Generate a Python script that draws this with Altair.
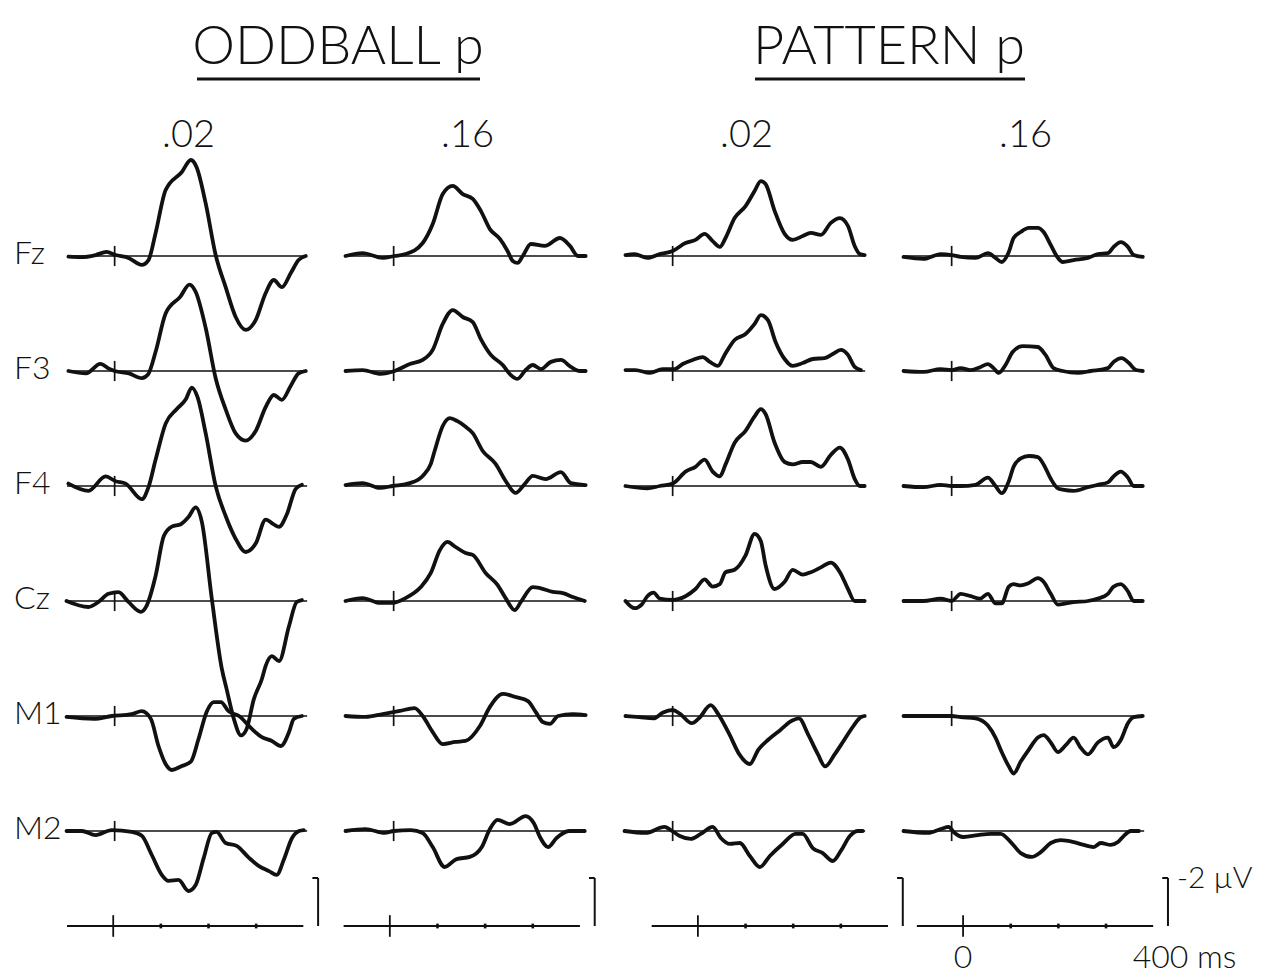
import altair as alt
import pandas as pd

# ---------------- data ----------------
GROUP_TITLES = ["ODDBALL p", "PATTERN p"]
CONDITIONS = ["odd02", "odd16", "pat02", "pat16"]
P_LABELS = [".02", ".16", ".02", ".16"]
ELECTRODES = ["Fz", "F3", "F4", "Cz", "M1", "M2"]
TIME_TICKS_MS = [100, 200, 300]
TIME_LABELS = [(0, "0"), (400, "400 ms")]
SCALE_UV = -2.0
SCALE_LABEL = "-2 \u00b5V"

# (time ms, amplitude uV; negative plotted upward)
ODD02_FZ = [(-97, 0.03), (-70, 0.05), (-40, -0.04), (-17, -0.17), (2, -0.04), (29, 0.08), (57, 0.37), (71, 0.17),
            (86, -0.96), (107, -2.75), (141, -3.5), (160, -4.0), (172, -3.7), (191, -2.2), (212, -0.04), (233, 1.3),
            (254, 2.54), (275, 3.08), (296, 2.67), (317, 1.54), (334, 1.0), (351, 1.3), (370, 0.7), (386, 0.17), (401, 0.0)]
ODD02_F3 = [(-97, 0.0), (-60, 0.1), (-30, -0.3), (-12, -0.1), (0, 0.0), (30, 0.1), (57, 0.3), (70, 0.15), (86, -0.8),
            (107, -2.4), (138, -3.1), (157, -3.6), (170, -3.3), (191, -1.8), (212, 0.3), (233, 1.6), (254, 2.6),
            (275, 2.9), (296, 2.5), (317, 1.5), (334, 1.0), (351, 1.2), (370, 0.6), (386, 0.1), (401, 0.0)]
ODD02_F4 = [(-97, -0.1), (-55, 0.2), (-19, -0.4), (2, -0.2), (23, -0.1), (57, 0.55), (71, 0.05), (86, -1.1),
            (107, -2.6), (130, -3.2), (149, -3.6), (162, -4.1), (174, -3.7), (191, -2.2), (212, 0.0), (233, 1.25),
            (254, 2.2), (275, 2.75), (296, 2.4), (317, 1.4), (334, 1.6), (345, 1.7), (361, 1.2), (380, 0.12), (393, -0.05)]
ODD02_CZ = [(-101, 0.0), (-55, 0.25), (-34, 0.04), (-13, -0.3), (8, -0.37), (29, 0.04), (55, 0.45), (67, 0.2),
            (86, -1.05), (103, -2.7), (120, -3.1), (139, -3.2), (155, -3.5), (170, -3.9), (183, -3.3), (204, -0.08),
            (225, 2.83), (235, 3.67), (250, 4.9), (265, 5.6), (277, 5.33), (292, 4.1), (309, 3.25), (317, 2.7),
            (330, 2.3), (345, 2.5), (366, 1.04), (382, 0.04), (393, -0.04)]
ODD02_M1 = [(-101, 0.04), (-44, 0.12), (-6, 0.0), (36, -0.08), (57, -0.2), (76, 0.12), (92, 1.25), (107, 2.0),
            (120, 2.25), (139, 2.1), (160, 1.9), (176, 0.96), (193, -0.17), (208, -0.58), (223, -0.58), (239, -0.2),
            (261, 0.0), (288, 0.54), (309, 0.88), (330, 1.04), (349, 1.25), (366, 0.67), (376, 0.12), (393, 0.0)]
ODD02_M2 = [(-101, 0.0), (-69, 0.0), (-40, 0.17), (-6, -0.04), (36, 0.04), (57, 0.2), (78, 1.0), (99, 1.83),
            (113, 2.08), (134, 2.04), (155, 2.5), (170, 2.25), (187, 1.12), (204, 0.08), (214, 0.04), (233, 0.5),
            (256, 0.62), (282, 1.12), (303, 1.46), (324, 1.67), (340, 1.83), (355, 1.2), (372, 0.3), (387, 0.0), (397, -0.04)]

ODD16_FZ = [(-101, 0.0), (-65, -0.12), (-23, 0.08), (2, 0.0), (25, -0.08), (61, -0.54), (82, -1.33), (103, -2.58),
            (124, -2.92), (145, -2.58), (166, -2.38), (183, -1.88), (202, -1.12), (223, -0.71), (239, -0.21),
            (250, 0.21), (260, 0.29), (271, 0.0), (288, -0.5), (317, -0.42), (349, -0.75), (370, -0.42), (387, 0.0), (403, 0.0)]
ODD16_F3 = [(-101, 0.0), (-65, -0.04), (-27, 0.12), (2, 0.0), (34, -0.29), (61, -0.46), (82, -0.88), (103, -1.96),
            (124, -2.54), (145, -2.25), (166, -2.04), (183, -1.33), (204, -0.67), (229, -0.25), (246, 0.17),
            (260, 0.33), (277, -0.04), (292, -0.25), (309, -0.08), (330, -0.38), (351, -0.46), (372, -0.17), (391, 0.0), (403, 0.0)]
ODD16_F4 = [(-101, -0.04), (-65, -0.12), (-29, 0.08), (-2, 0.0), (34, -0.12), (61, -0.42), (78, -0.92), (86, -1.46),
            (103, -2.5), (118, -2.83), (134, -2.7), (149, -2.5), (166, -2.2), (187, -1.46), (214, -0.92), (235, -0.21),
            (256, 0.29), (275, -0.08), (292, -0.42), (319, -0.29), (351, -0.58), (372, -0.12), (403, -0.04)]
ODD16_CZ = [(-101, 0.0), (-65, -0.12), (-29, 0.08), (-2, 0.08), (25, -0.12), (57, -0.58), (78, -1.17), (97, -2.12),
            (113, -2.46), (130, -2.25), (151, -2.0), (166, -1.92), (193, -1.17), (218, -0.67), (235, -0.12),
            (254, 0.38), (267, 0.04), (292, -0.58), (307, -0.54), (334, -0.38), (355, -0.33), (376, -0.17), (401, 0.0)]
ODD16_M1 = [(-101, 0.0), (-59, 0.04), (-23, -0.08), (13, -0.21), (44, -0.33), (61, 0.0), (82, 0.67), (103, 1.17),
            (130, 1.08), (151, 1.04), (181, 0.42), (202, -0.38), (229, -0.92), (256, -0.79), (282, -0.62),
            (298, -0.17), (313, 0.25), (328, 0.33), (345, 0.0), (376, -0.08), (403, -0.04)]
ODD16_M2 = [(-101, 0.0), (-59, -0.08), (-19, 0.08), (0, 0.0), (36, -0.04), (61, 0.08), (82, 0.67), (107, 1.5),
            (132, 1.17), (160, 1.08), (185, 0.67), (202, -0.08), (218, -0.46), (244, -0.29), (277, -0.62),
            (294, -0.33), (307, 0.25), (324, 0.67), (342, 0.29), (368, 0.0), (401, 0.0)]

PAT02_FZ = [(-99, -0.04), (-80, -0.08), (-53, 0.08), (-27, -0.08), (0, -0.21), (27, -0.54), (48, -0.67), (67, -0.92),
            (84, -0.62), (99, -0.38), (111, -0.75), (130, -1.58), (153, -2.08), (172, -2.71), (185, -3.12),
            (195, -3.0), (214, -1.88), (235, -0.92), (252, -0.67), (273, -0.83), (290, -0.96), (311, -0.88),
            (332, -1.38), (351, -1.58), (368, -1.25), (382, -0.42), (393, -0.08), (403, -0.04)]
PAT02_F3 = [(-99, -0.04), (-78, -0.04), (-48, 0.08), (-21, -0.08), (4, -0.08), (21, -0.29), (42, -0.46), (63, -0.58),
            (78, -0.38), (95, -0.21), (109, -0.67), (130, -1.29), (153, -1.54), (172, -1.96), (185, -2.33),
            (200, -2.12), (216, -1.21), (235, -0.5), (252, -0.21), (273, -0.33), (294, -0.5), (319, -0.54),
            (336, -0.71), (353, -0.88), (368, -0.67), (382, -0.17), (395, -0.04)]
PAT02_F4 = [(-99, 0.0), (-53, 0.1), (-27, 0.0), (0, -0.1), (27, -0.6), (48, -0.8), (67, -1.1), (84, -0.6), (99, -0.4),
            (111, -0.9), (130, -1.8), (153, -2.3), (172, -2.9), (185, -3.2), (195, -3.0), (214, -1.8), (235, -1.0),
            (252, -0.9), (273, -1.0), (290, -1.0), (311, -0.8), (332, -1.3), (351, -1.6), (368, -1.1), (382, -0.3),
            (393, 0.0), (403, 0.0)]
PAT02_CZ = [(-99, 0.0), (-80, 0.3), (-65, 0.15), (-53, -0.2), (-40, -0.35), (-27, -0.1), (0, -0.05), (27, -0.2),
            (48, -0.5), (67, -0.9), (84, -0.6), (99, -0.7), (111, -1.2), (130, -1.3), (153, -1.9), (172, -2.8),
            (185, -2.5), (195, -1.5), (214, -0.5), (235, -0.8), (252, -1.3), (273, -1.1), (290, -1.2), (311, -1.4),
            (332, -1.6), (351, -1.2), (368, -0.5), (382, 0.0), (403, 0.0)]
PAT02_M1 = [(-99, 0.0), (-70, 0.05), (-40, 0.1), (-20, -0.15), (0, -0.25), (15, -0.1), (40, 0.3), (55, 0.1),
            (80, -0.45), (95, -0.1), (120, 0.8), (140, 1.6), (162, 2.0), (180, 1.4), (200, 1.0), (225, 0.6),
            (250, 0.2), (265, 0.1), (285, 0.8), (305, 1.6), (320, 2.1), (340, 1.6), (360, 1.0), (380, 0.4),
            (395, 0.05), (403, 0.0)]
PAT02_M2 = [(-101, 0.0), (-57, 0.08), (-17, -0.17), (-4, -0.04), (15, 0.21), (38, 0.33), (59, 0.12), (84, -0.17),
            (101, 0.29), (120, 0.54), (141, 0.5), (162, 1.04), (183, 1.5), (204, 1.04), (231, 0.54), (258, 0.12),
            (273, 0.12), (294, 0.71), (315, 0.92), (336, 1.25), (353, 0.83), (372, 0.21), (389, 0.0), (399, 0.0)]

PAT16_FZ = [(-101, 0.04), (-59, 0.12), (-23, -0.08), (0, -0.04), (19, 0.04), (50, 0.08), (76, -0.12), (92, 0.08),
            (105, 0.25), (120, -0.17), (130, -0.75), (145, -1.0), (162, -1.17), (181, -1.17), (193, -1.0),
            (208, -0.46), (223, 0.08), (233, 0.25), (256, 0.17), (286, 0.08), (307, -0.08), (328, -0.12),
            (340, -0.38), (355, -0.58), (370, -0.38), (382, -0.04), (401, 0.04)]
PAT16_F3 = [(-101, 0.0), (-59, 0.04), (-23, -0.08), (0, -0.04), (19, -0.12), (40, -0.04), (61, -0.17), (76, -0.29),
            (88, -0.12), (99, 0.08), (113, -0.25), (128, -0.79), (149, -1.04), (181, -1.0), (197, -0.67),
            (214, -0.12), (233, 0.0), (265, 0.08), (292, 0.0), (328, -0.12), (340, -0.38), (357, -0.54),
            (372, -0.33), (387, -0.04), (401, 0.0)]
PAT16_F4 = [(-101, 0.0), (-59, 0.05), (-23, -0.05), (0, 0.0), (19, 0.0), (50, -0.05), (76, -0.35), (92, 0.0),
            (105, 0.3), (120, -0.2), (130, -0.8), (145, -1.15), (162, -1.25), (181, -1.2), (193, -0.9), (208, -0.3),
            (223, 0.1), (233, 0.15), (256, 0.2), (286, 0.05), (307, -0.05), (328, -0.15), (340, -0.4), (355, -0.6),
            (370, -0.35), (382, 0.0), (401, 0.0)]
PAT16_CZ = [(-101, 0.0), (-59, 0.0), (-23, -0.1), (0, 0.0), (19, -0.3), (40, -0.2), (60, -0.1), (76, -0.3),
            (92, 0.1), (105, 0.1), (120, -0.6), (130, -0.7), (145, -0.65), (162, -0.75), (181, -0.95), (193, -0.8),
            (208, -0.3), (223, 0.15), (240, 0.1), (256, 0.05), (286, 0.0), (307, -0.1), (328, -0.3), (340, -0.6),
            (355, -0.7), (370, -0.4), (382, 0.0), (401, 0.0)]
PAT16_M1 = [(-101, 0.0), (-59, 0.0), (-23, 0.0), (0, 0.0), (19, 0.05), (50, 0.1), (76, 0.4), (92, 0.9), (105, 1.5),
            (120, 2.1), (130, 2.4), (145, 1.9), (162, 1.4), (181, 0.9), (193, 0.8), (208, 1.1), (223, 1.5),
            (240, 1.2), (256, 0.9), (270, 1.3), (286, 1.6), (307, 1.1), (328, 0.9), (340, 1.3), (355, 1.0),
            (370, 0.3), (382, 0.05), (401, 0.0)]
PAT16_M2 = [(-101, 0.0), (-50, 0.08), (-23, -0.08), (-6, -0.17), (4, 0.04), (25, 0.25), (55, 0.17), (82, 0.12),
            (103, 0.12), (124, 0.46), (145, 0.92), (168, 1.08), (187, 0.88), (208, 0.5), (229, 0.38), (256, 0.46),
            (277, 0.58), (298, 0.67), (313, 0.5), (334, 0.58), (349, 0.46), (361, 0.21), (376, 0.0), (393, 0.0)]

WAVES = {
    ("odd02", "Fz"): ODD02_FZ, ("odd02", "F3"): ODD02_F3, ("odd02", "F4"): ODD02_F4,
    ("odd02", "Cz"): ODD02_CZ, ("odd02", "M1"): ODD02_M1, ("odd02", "M2"): ODD02_M2,
    ("odd16", "Fz"): ODD16_FZ, ("odd16", "F3"): ODD16_F3, ("odd16", "F4"): ODD16_F4,
    ("odd16", "Cz"): ODD16_CZ, ("odd16", "M1"): ODD16_M1, ("odd16", "M2"): ODD16_M2,
    ("pat02", "Fz"): PAT02_FZ, ("pat02", "F3"): PAT02_F3, ("pat02", "F4"): PAT02_F4,
    ("pat02", "Cz"): PAT02_CZ, ("pat02", "M1"): PAT02_M1, ("pat02", "M2"): PAT02_M2,
    ("pat16", "Fz"): PAT16_FZ, ("pat16", "F3"): PAT16_F3, ("pat16", "F4"): PAT16_F4,
    ("pat16", "Cz"): PAT16_CZ, ("pat16", "M1"): PAT16_M1, ("pat16", "M2"): PAT16_M2,
}

wave_rows = []
for (cond, elec), pts in WAVES.items():
    for i, (t, v) in enumerate(pts):
        wave_rows.append({"cond": cond, "elec": elec, "i": i, "t": t, "v": v})
WAVE_DF = pd.DataFrame(wave_rows)

# ---------------- layout / style ----------------
FONT = "Lato"
INK = "#111111"
W, H, GAP = 243, 115, 36
XDOM = [-100, 410]
UV_PX = 24
BASE_TOP = 70
YDOM = [-BASE_TOP / UV_PX, (H - BASE_TOP) / UV_PX]
AX_H, AX_BASE = 52, 50
AX_YDOM = [-AX_BASE / UV_PX, (AX_H - AX_BASE) / UV_PX]
AXIS_SHIFT = [-3, -8, 53, 24]
BASELINE_SPAN = [-100, 404]
AXIS_SPAN = [-97, 399]
BAR_T, HOOK_T = 430, 418
HEAD_H = 186

BASE_DF = pd.DataFrame({"t0": [BASELINE_SPAN[0]], "t1": [BASELINE_SPAN[1]], "v": [0.0]})
STIM_DF = pd.DataFrame({"t": [0], "v0": [-0.42], "v1": [0.42]})


def xsc(dom):
    return alt.Scale(domain=dom, nice=False, zero=False)


def ysc(dom):
    return alt.Scale(domain=dom, nice=False, zero=False, reverse=True)


def wave_cell(ci, elec):
    X, Y = xsc(XDOM), ysc(YDOM)
    base = alt.Chart(BASE_DF).mark_rule(color=INK, strokeWidth=1.6).encode(
        x=alt.X("t0:Q", scale=X, axis=None), x2="t1:Q",
        y=alt.Y("v:Q", scale=Y, axis=None))
    stim = alt.Chart(STIM_DF).mark_rule(color=INK, strokeWidth=1.7).encode(
        x=alt.X("t:Q", scale=X, axis=None),
        y=alt.Y("v0:Q", scale=Y, axis=None), y2="v1:Q")
    line = alt.Chart(WAVE_DF).transform_filter(
        (alt.datum.cond == CONDITIONS[ci]) & (alt.datum.elec == elec)
    ).mark_line(color=INK, strokeWidth=3.8, interpolate="monotone",
                strokeCap="round", strokeJoin="round").encode(
        x=alt.X("t:Q", scale=X, axis=None),
        y=alt.Y("v:Q", scale=Y, axis=None),
        order="i:Q")
    layers = [base, stim, line]
    if ci == 0:
        lab = alt.Chart(pd.DataFrame({"elec": ELECTRODES})).transform_filter(
            alt.datum.elec == elec
        ).transform_calculate(v="0").mark_text(
            font=FONT, fontSize=32, fontWeight=300, color=INK,
            align="left", baseline="alphabetic", dy=8).encode(
            x=alt.value(-53), y=alt.Y("v:Q", scale=Y, axis=None), text="elec:N")
        layers.append(lab)
    return alt.layer(*layers).properties(width=W, height=H)


TITLE_CX = {0: 271, 2: 264}
UNDERLINE = {0: (130, 413), 2: (130, 400)}


def head_cell(ci):
    p = alt.Chart(pd.DataFrame({"p": [P_LABELS[ci]]})).mark_text(
        font=FONT, fontSize=38, fontWeight=300, color=INK,
        align="center", baseline="alphabetic").encode(
        x=alt.value(W / 2), y=alt.value(147), text="p:N")
    layers = [p]
    if ci in TITLE_CX:
        gi = ci // 2
        txt = alt.Chart(pd.DataFrame({"t": [GROUP_TITLES[gi]]})).mark_text(
            font=FONT, fontSize=54, fontWeight=300, color=INK,
            align="center", baseline="alphabetic").encode(
            x=alt.value(TITLE_CX[ci]), y=alt.value(64), text="t:N")
        ul = alt.Chart(pd.DataFrame({"g": [gi]})).mark_rule(color=INK, strokeWidth=3).encode(
            x=alt.value(UNDERLINE[ci][0]), x2=alt.value(UNDERLINE[ci][1]), y=alt.value(79))
        layers += [txt, ul]
    return alt.layer(*layers).properties(width=W, height=HEAD_H)


def axis_cell(ci):
    X = xsc([XDOM[0] - AXIS_SHIFT[ci], XDOM[1] - AXIS_SHIFT[ci]])
    Y = ysc(AX_YDOM)
    axis_line = alt.Chart(pd.DataFrame({"t0": [AXIS_SPAN[0]], "t1": [AXIS_SPAN[1]], "v": [0.0]})).mark_rule(
        color=INK, strokeWidth=2.2).encode(
        x=alt.X("t0:Q", scale=X, axis=None), x2="t1:Q", y=alt.Y("v:Q", scale=Y, axis=None))
    zero_tick = alt.Chart(pd.DataFrame({"t": [0], "v0": [-0.45], "v1": [0.45]})).mark_rule(
        color=INK, strokeWidth=1.8).encode(
        x=alt.X("t:Q", scale=X, axis=None), y=alt.Y("v0:Q", scale=Y, axis=None), y2="v1:Q")
    small = alt.Chart(pd.DataFrame({"t": TIME_TICKS_MS})).transform_calculate(
        v0="-0.1", v1="0.1").mark_rule(color=INK, strokeWidth=2.6).encode(
        x=alt.X("t:Q", scale=X, axis=None), y=alt.Y("v0:Q", scale=Y, axis=None), y2="v1:Q")
    bar = alt.Chart(pd.DataFrame({"t": [BAR_T], "v0": [0.0], "v1": [SCALE_UV]})).mark_rule(
        color=INK, strokeWidth=2).encode(
        x=alt.X("t:Q", scale=X, axis=None), y=alt.Y("v0:Q", scale=Y, axis=None), y2="v1:Q")
    hook = alt.Chart(pd.DataFrame({"t0": [HOOK_T], "t1": [BAR_T], "v": [SCALE_UV]})).mark_rule(
        color=INK, strokeWidth=2).encode(
        x=alt.X("t0:Q", scale=X, axis=None), x2="t1:Q", y=alt.Y("v:Q", scale=Y, axis=None))
    layers = [axis_line, zero_tick, small, bar, hook]
    if ci == 3:
        lab0 = alt.Chart(pd.DataFrame({"t": [TIME_LABELS[0][0]], "lab": [TIME_LABELS[0][1]]})).transform_calculate(
            v="0").mark_text(font=FONT, fontSize=32, fontWeight=300, color=INK,
                             align="center", baseline="alphabetic", dy=42).encode(
            x=alt.X("t:Q", scale=X, axis=None), y=alt.Y("v:Q", scale=Y, axis=None), text="lab:N")
        lab1 = alt.Chart(pd.DataFrame({"t": [TIME_LABELS[1][0]], "lab": [TIME_LABELS[1][1]]})).transform_calculate(
            v="0").mark_text(font=FONT, fontSize=32, fontWeight=300, color=INK,
                             align="left", baseline="alphabetic", dx=-21, dy=42).encode(
            x=alt.X("t:Q", scale=X, axis=None), y=alt.Y("v:Q", scale=Y, axis=None), text="lab:N")
        uv = alt.Chart(pd.DataFrame({"t": [BAR_T], "v": [SCALE_UV], "lab": [SCALE_LABEL]})).mark_text(
            font=FONT, fontSize=30, fontWeight=300, color=INK,
            align="left", baseline="alphabetic", dx=9, dy=10).encode(
            x=alt.X("t:Q", scale=X, axis=None), y=alt.Y("v:Q", scale=Y, axis=None), text="lab:N")
        layers += [lab0, lab1, uv]
    return alt.layer(*layers).properties(width=W, height=AX_H)


cells = [head_cell(ci) for ci in range(4)]
for e in ELECTRODES:
    cells += [wave_cell(ci, e) for ci in range(4)]
cells += [axis_cell(ci) for ci in range(4)]

chart = alt.concat(*cells, columns=4, spacing={"row": 0, "column": GAP}, bounds="flush").properties(
    padding={"left": 14, "top": 0, "right": 5, "bottom": 0},
    background="white",
).configure_view(stroke=None)

chart.save("out.html", embed_options={"renderer": "svg", "actions": False})
